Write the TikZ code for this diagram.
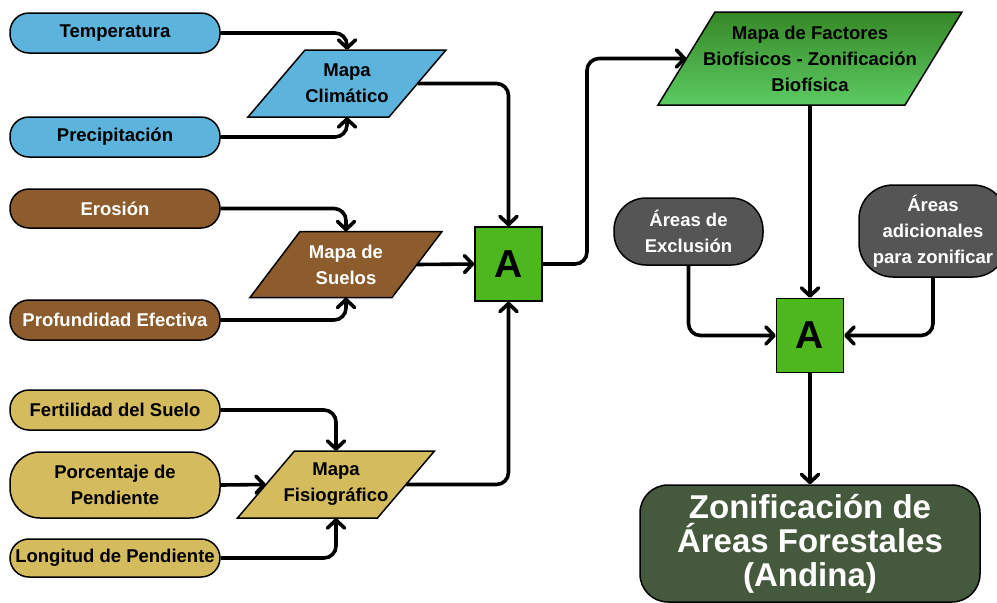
\documentclass[tikz,border=0pt]{standalone}
\usepackage{fontspec}
\setmainfont{Liberation Sans}
\usetikzlibrary{arrows.meta,calc}
\definecolor{cblue}{RGB}{92,180,220}
\definecolor{cbrown}{RGB}{140,92,45}
\definecolor{ctan}{RGB}{212,187,94}
\definecolor{cgreen}{RGB}{76,184,30}
\definecolor{cgray}{RGB}{85,85,85}
\definecolor{cfinal}{RGB}{69,89,60}
\definecolor{cftop}{RGB}{54,136,38}
\definecolor{cfbot}{RGB}{92,202,98}
\tikzset{
  lbl/.style={font=\bfseries\fontsize{18.5}{26}\selectfont, align=center, inner sep=0pt},
  pill/.style={lbl, draw=black, line width=1.5pt, minimum width=210pt, minimum height=40pt, rounded corners=19pt},
  parashape/.style={draw=black, line width=1.5pt, line join=miter},
  paratext/.style={lbl, draw=none},
  abox/.style={draw=black, line width=1.5pt, fill=cgreen, minimum width=67pt, minimum height=74pt, inner sep=0pt, font=\bfseries\fontsize{39}{39}\selectfont},
  conn/.style={line width=3.6pt, rounded corners=12pt, -{Straight Barb[length=8pt,width=17pt,round]}},
}
\newcommand\parabox[9]{%
  \path[parashape,#7] (#2-#4/2+#6/2,#3-#5/2) -- (#2+#4/2+#6/2,#3-#5/2) -- (#2+#4/2-#6/2,#3+#5/2) -- (#2-#4/2-#6/2,#3+#5/2) -- cycle;
  \node[paratext,minimum width=#4pt,minimum height=#5pt,#8] (#1) at (#2,#3) {#9};
}
\begin{document}
\begin{tikzpicture}[x=1pt,y=-1pt]
\useasboundingbox (0,0) rectangle (997,603);
\clip (0,0) rectangle (997,603);
\fill[white] (0,0) rectangle (997,603);

% left pills
\node[pill, fill=cblue] (temp) at (115,33) {Temperatura};
\node[pill, fill=cblue] (prec) at (115,137) {Precipitación};
\node[pill, fill=cbrown, text=white, minimum height=39pt] (eros) at (115,208.5) {Erosión};
\node[pill, fill=cbrown, text=white] (prof) at (115,320) {Profundidad Efectiva};
\node[pill, fill=ctan] (fert) at (115,410) {Fertilidad del Suelo};
\node[pill, fill=ctan, minimum height=66pt, rounded corners=30pt] (porc) at (115,485) {Porcentaje de\\Pendiente};
\node[pill, fill=ctan, minimum height=38pt] (long) at (115,558) {Longitud de Pendiente};

% parallelograms
\parabox{clim}{347}{83.5}{141}{67}{57}{fill=cblue}{}{Mapa\\Climático}
\parabox{suelos}{346}{264.5}{142}{66}{50}{fill=cbrown}{text=white}{Mapa de\\Suelos}
\parabox{fisio}{336}{484.5}{140}{67}{57}{fill=ctan}{}{Mapa\\Fisiográfico}
\parabox{fact}{810}{58.5}{247}{93}{57}{top color=cftop,bottom color=cfbot}{}{Mapa de Factores\\Biofísicos - Zonificación\\Biofísica}

% A boxes
\node[abox] (A1) at (508.5,264) {A};
\node[abox] (A2) at (810,335.5) {A};

% gray pills
\node[lbl, draw=black, line width=1.5pt, fill=cgray, text=white, minimum width=149pt, minimum height=67pt, rounded corners=32pt] (excl) at (688.5,231.5) {Áreas de\\Exclusión};
\node[lbl, draw=black, line width=1.5pt, fill=cgray, text=white, minimum width=148pt, minimum height=92pt, rounded corners=34pt] (adic) at (933,231) {Áreas\\adicionales\\para zonificar};

% final
\node[draw=black, line width=1.5pt, fill=cfinal, text=white, minimum width=340pt, minimum height=117pt, rounded corners=28pt, align=center, inner sep=0pt, font=\bfseries\fontsize{33}{34}\selectfont] (final) at (810,543.5) {Zonificación de\\Áreas Forestales\\(Andina)};

\coordinate (j1) at (587,0);

% connectors
\draw[conn] (temp.east) -| (clim.north);
\draw[conn] (prec.east) -| (clim.south);
\draw[conn] (eros.east) -| (suelos.north);
\draw[conn] (prof.east) -| (suelos.south);
\draw[conn] (fert.east) -| (fisio.north);
\draw[conn] (porc.east) -- (fisio.west);
\draw[conn] (long.east) -| (fisio.south);
\draw[conn] (clim.east) -| (A1.north);
\draw[conn] (suelos.east) -- (A1.west);
\draw[conn] (fisio.east) -| (A1.south);
\draw[conn] (A1.east) -| (j1 |- fact.west) -- (fact.west);
\draw[conn] (fact.south) -- (A2.north);
\draw[conn] (excl.south) |- (A2.west);
\draw[conn] (adic.south) |- (A2.east);
\draw[conn] (A2.south) -- (final.north);
\end{tikzpicture}
\end{document}
